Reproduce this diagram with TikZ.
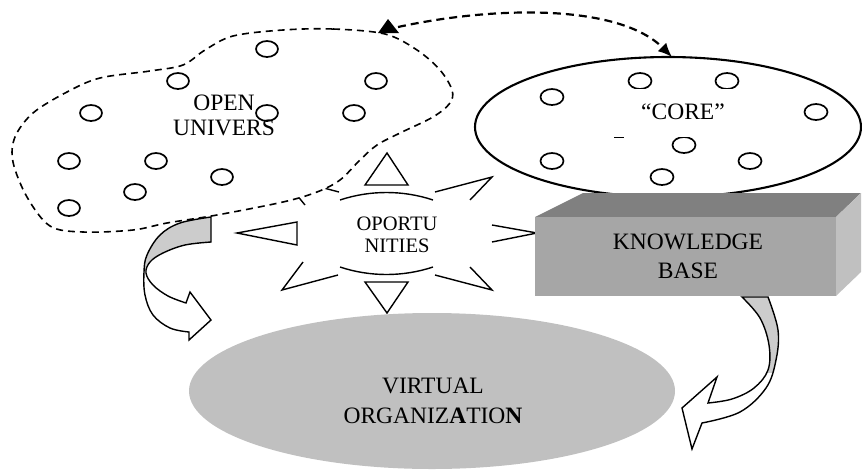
\documentclass[tikz,border=0pt]{standalone}
\usepackage{fontspec}
\setmainfont{Liberation Serif}
\usetikzlibrary{arrows.meta}
\definecolor{voGray}{RGB}{192,192,192}
\definecolor{ribGray}{RGB}{204,204,204}
\definecolor{kbTop}{RGB}{128,128,128}
\definecolor{kbFront}{RGB}{166,166,166}
\definecolor{kbSide}{RGB}{192,192,192}
\newcommand{\leftRib}{plot[smooth, tension=0.6] coordinates {(211,217) (180,223) (160,235) (147,255) (144,272) (145,295) (153,315) (170,328) (189,332)} -- (189,340) -- (211,320) -- (190,292) -- (186,303) -- plot[smooth, tension=0.6] coordinates {(186,303) (168,296) (153,285) (146,273) (150,262) (163,253) (185,245) (211,242)} -- cycle}
\newcommand{\rightRib}{plot[smooth, tension=0.6] coordinates {(768,297) (778,330) (776,360) (766,388) (740,412) (702,423)} -- (692,449) -- (682,408) -- (717,377) -- (708,403) -- plot[smooth, tension=0.6] coordinates {(708,403) (732,399) (754,388) (768,370) (769,345) (760,318) (742,297)} -- cycle}
\newcommand{\blobPts}{plot[smooth cycle, tension=0.55] coordinates {(283,30) (333,29) (385,34) (417,50) (440,70) (452,90) (450,103) (433,117) (400,133) (377,145) (360,160) (340,180) (317,192) (283,202) (217,215) (167,223) (133,230) (83,232) (50,226) (27,197) (13,162) (15,137) (33,113) (67,92) (100,78) (150,71) (183,65) (205,50) (233,36)}}
\begin{document}
\begin{tikzpicture}[x=1pt,y=-1pt,
  dotc/.style={line width=1.7pt},
  starline/.style={line width=1.4pt, line join=miter},
  ribbon/.style={line width=1.4pt, line join=miter},
  lbl/.style={inner sep=0pt, align=center, text=black},
  bigfont/.style={font=\fontsize{23.5}{25}\selectfont},
]
\useasboundingbox (0,0) rectangle (862,472);

% virtual organization
\fill[voGray] (432,391) ellipse [x radius=243pt, y radius=78pt];
\node[lbl, font=\fontsize{23.5}{30}\selectfont, anchor=north] (vo) at (433,378) {VIRTUAL\\ORGANIZ\textbf{A}TIO\textbf{N}};

% opportunities star
\draw[starline] (387,153) -- (365,185) -- (408,185) -- cycle;
\draw[starline] (365,282) -- (408,282) -- (387,313) -- cycle;
\draw[starline] (237,233) -- (297,222) -- (297,245) -- cycle;
\draw[starline] (492,225) -- (537,233) -- (492,242);
\draw[starline] (435,192) -- (492,177) -- (470,200);
\draw[starline] (435,275) -- (492,290) -- (470,267);
\draw[starline] (303,262) -- (282,290) -- (338,275);
\draw[starline] (339,192) -- (282,177) -- (305,205);
\draw[starline] (340,200) .. controls (370,190) and (403,190) .. (433,200);
\draw[starline] (340,267) .. controls (370,277) and (403,277) .. (433,267);
\node[lbl, font=\fontsize{20.5}{22}\selectfont, anchor=north] (opp) at (397,217) {OPORTU\\NITIES};

% open universe blob (white filled, over the star)
\fill[white] \blobPts;

% left curved arrow
\fill[white] \leftRib;
\begin{scope}
  \clip (100,200) rectangle (230,272.5);
  \fill[ribGray] \leftRib;
\end{scope}
\draw[ribbon] \leftRib;

\draw[line width=1.6pt, dash pattern=on 7pt off 5pt] \blobPts;

\foreach \p in {(267,49),(178,81),(376,81),(91,113),(267,113),(354,113),(69,161),(156,161),(222,177),(135,192),(69,208)}
  \draw[dotc] \p ellipse [x radius=11pt, y radius=8pt];
\node[lbl, bigfont, anchor=north] (ou) at (224,95) {OPEN\\UNIVERS};

% core ellipse
\draw[line width=2.1pt, fill=white] (668,127) ellipse [x radius=193pt, y radius=70pt];
\foreach \p in {(640,81),(727,81),(552,97),(816,112),(684,145),(552,161),(750,161),(662,177)}
  \draw[dotc] \p ellipse [x radius=11.5pt, y radius=8pt];
\fill[white] (580,88.5) rectangle (790,136.5);
\draw[line width=1.4pt] (614,137.5) -- (624,137.5);
\node[lbl, bigfont, anchor=base] (core) at (683,119) {“CORE”};

% dashed double arrow
\coordinate (dA) at (398,27);
\coordinate (dB) at (672,57);
\draw[line width=2.2pt, dash pattern=on 8pt off 5pt, -{Latex[length=14pt,width=12pt]}] (dA) .. controls (500,5) and (620,5) .. (dB);
\fill (388,19) -- (378,33) -- (399,33) -- cycle;

% right curved arrow
\fill[white] \rightRib;
\begin{scope}
  \clip (720,290) rectangle (800,372);
  \fill[ribGray] \rightRib;
\end{scope}
\draw[ribbon] \rightRib;

% knowledge base box
\fill[kbTop] (535,217) -- (583,193) -- (861,193) -- (836,217) -- cycle;
\fill[kbSide] (836,217) -- (861,193) -- (861,272) -- (836,296) -- cycle;
\node[fill=kbFront, minimum width=301pt, minimum height=79pt, anchor=north west, inner sep=0pt] (kb) at (535,217) {};
\node[lbl, font=\fontsize{23.5}{29}\selectfont, anchor=north] (kbt) at (688,234) {KNOWLEDGE\\BASE};
\end{tikzpicture}
\end{document}
